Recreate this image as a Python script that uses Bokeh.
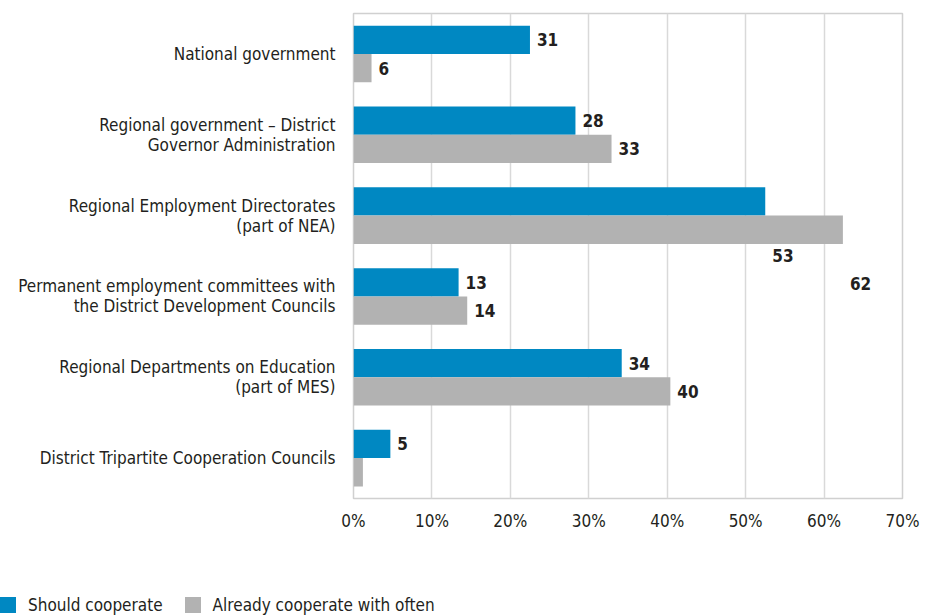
from bokeh.plotting import figure
from bokeh.layouts import column
from bokeh.models import Range1d, FixedTicker, ColumnDataSource, Div
from bokeh.core.properties import value
from bokeh.embed import file_html
from bokeh.resources import INLINE

categories = [
    "National government",
    "Regional government \u2013 District\nGovernor Administration",
    "Regional Employment Directorates\n(part of NEA)",
    "Permanent employment committees with\nthe District Development Councils",
    "Regional Departments on Education\n(part of MES)",
    "District Tripartite Cooperation Councils",
]
should_values = [22.5, 28.3, 52.5, 13.4, 34.2, 4.7]
already_values = [2.3, 32.9, 62.4, 14.5, 40.4, 1.2]
should_labels = ["31", "28", "53", "13", "34", "5"]
already_labels = ["6", "33", "62", "14", "40", ""]
x_ticks = [0, 10, 20, 30, 40, 50, 60, 70]
tick_labels = ["0%", "10%", "20%", "30%", "40%", "50%", "60%", "70%"]
series_names = ["Should cooperate", "Already cooperate with often"]

FONT = "'Liberation Sans Narrow', 'DejaVu Sans Condensed', 'Roboto', sans-serif"
BLUE = "#0088c2"
GREY = "#b2b2b2"
TXT = "#231f20"

n = len(categories)
centers = [i + 0.5 for i in range(n)]
bh = 0.35
blue_y = [c - bh / 2 for c in centers]
grey_y = [c + bh / 2 for c in centers]

# labels displaced downward for the category whose labels were moved in the original
shift = {2: 0.67}
blue_ly = [blue_y[i] + shift.get(i, 0) for i in range(n)]
grey_ly = [grey_y[i] + shift.get(i, 0) for i in range(n)]

p = figure(width=928, height=588, output_backend="svg", toolbar_location=None,
           x_range=Range1d(0, 70), y_range=Range1d(n, 0))
p.min_border_left = 353
p.min_border_right = 26
p.min_border_top = 13
p.min_border_bottom = 90
p.outline_line_color = "#d0d0d0"
p.outline_line_width = 1.5

src_b = ColumnDataSource(dict(y=blue_y, v=should_values, ly=blue_ly, t=should_labels))
src_g = ColumnDataSource(dict(y=grey_y, v=already_values, ly=grey_ly, t=already_labels))

p.hbar(y="y", left=0, right="v", height=bh, source=src_b, fill_color=BLUE, line_color=None)
p.hbar(y="y", left=0, right="v", height=bh, source=src_g, fill_color=GREY, line_color=None)

for src in (src_b, src_g):
    p.text(x="v", y="ly", text="t", source=src, x_offset=7, text_baseline="middle",
           text_align="left", text_font=value(FONT), text_font_style="bold",
           text_font_size="17px", text_color=TXT)

p.xaxis.ticker = FixedTicker(ticks=x_ticks)
p.xaxis.major_label_overrides = {t: l for t, l in zip(x_ticks, tick_labels)}
p.xaxis.axis_line_color = None
p.xaxis.major_tick_line_color = None
p.xaxis.minor_tick_line_color = None
p.xaxis.major_label_standoff = 6
p.xaxis.major_label_text_font = FONT
p.xaxis.major_label_text_font_size = "17px"
p.xaxis.major_label_text_color = TXT

p.yaxis.ticker = FixedTicker(ticks=centers)
p.yaxis.major_label_overrides = {c: l for c, l in zip(centers, categories)}
p.yaxis.axis_line_color = None
p.yaxis.major_tick_line_color = None
p.yaxis.minor_tick_line_color = None
p.yaxis.major_label_standoff = 12
p.yaxis.major_label_text_font = FONT
p.yaxis.major_label_text_font_size = "17px"
p.yaxis.major_label_text_color = TXT
p.yaxis.major_label_text_align = "right"
p.yaxis.major_label_text_line_height = 1.0

p.xgrid.grid_line_color = "#d9d9d9"
p.xgrid.grid_line_width = 1.5
p.ygrid.grid_line_color = None

# legend strip below the chart
def swatch(color, name, gap):
    return (f'<span style="display:inline-flex;align-items:center;margin-left:{gap}px;">'
            f'<span style="display:inline-block;width:16px;height:16px;background:{color};'
            f'margin-right:12px;"></span>{name}</span>')

legend_html = (f'<div style="display:flex;align-items:center;height:16px;margin-top:9px;'
               f'font-family:{FONT};font-size:17px;color:{TXT};white-space:nowrap;">'
               + swatch(BLUE, series_names[0], 0)
               + swatch(GREY, series_names[1], 22)
               + '</div>')
legend_div = Div(text=legend_html, width=928, height=28, margin=(0, 0, 0, 0))

layout = column(p, legend_div, spacing=0)
open("out.html", "w").write(file_html(layout, INLINE))
